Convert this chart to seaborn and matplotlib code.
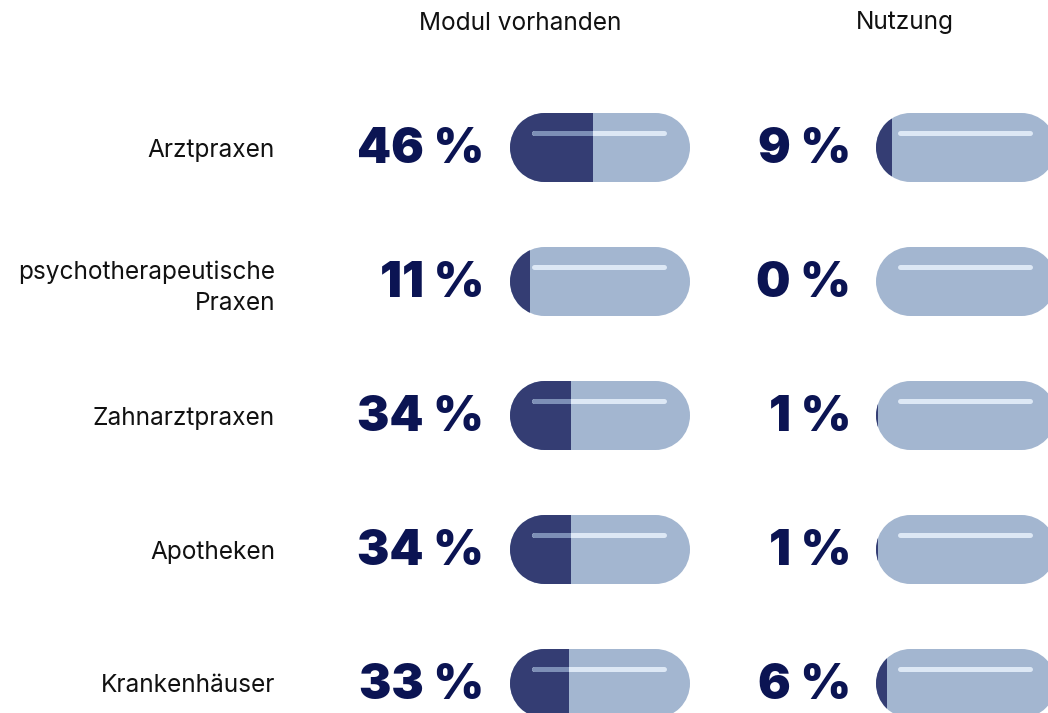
import matplotlib
matplotlib.use("Agg")
import matplotlib.pyplot as plt
import seaborn as sns
import pandas as pd
import numpy as np
from matplotlib.path import Path
from matplotlib.patches import PathPatch

categories = ["Arztpraxen", "psychotherapeutische\nPraxen", "Zahnarztpraxen", "Apotheken", "Krankenhäuser"]
modul_vorhanden = [46, 11, 34, 34, 33]
nutzung = [9, 0, 1, 1, 6]
headers = ["Modul vorhanden", "Nutzung"]

DARK = "#343d73"
LIGHT = "#a3b6d0"
HL_LIGHT = "#dde8f5"
HL_DARK = "#7d8fb6"
TXT = "#0b1453"

sns.set_theme(style="white")
plt.rcParams["font.family"] = ["Inter", "DejaVu Sans"]

W, H = 1048, 713
fig = plt.figure(figsize=(W / 100, H / 100), dpi=100)

row0, step = 147.5, 134.0
pill_w_px, pill_h_px = 180.0, 69.0
bar_h = pill_h_px / step
ux = pill_w_px / 100.0  # px per percent
ylim = ((H - row0) / step, -row0 / step)
rx = pill_h_px / 2 / ux
ry = bar_h / 2


def pill_path(cy, x0=0.0, x1=100.0):
    left = Path.arc(90, 270)
    right = Path.arc(-90, 90)
    lv = left.vertices * [rx, ry] + [x0 + rx, cy]
    rv = right.vertices * [rx, ry] + [x1 - rx, cy]
    verts = np.vstack([lv, rv[:1], rv, lv[:1]])
    codes = np.concatenate([left.codes, [Path.LINETO], [Path.LINETO], right.codes[1:],
                            [Path.CLOSEPOLY]])
    return Path(verts, codes)


col_left = [510, 876]
num_right = [484, 851]
head_x = [520, 905]
series = [modul_vorhanden, nutzung]

for k in range(2):
    ax = fig.add_axes([col_left[k] / W, 0, pill_w_px / W, 1])
    df = pd.DataFrame({"cat": categories, "val": series[k]})
    pills = []
    for i in range(len(categories)):
        p = PathPatch(pill_path(i), facecolor=LIGHT, edgecolor="none", zorder=1)
        ax.add_patch(p)
        pills.append(p)
    sns.barplot(data=df, x="val", y="cat", orient="h", color=DARK, saturation=1,
                width=bar_h, ax=ax, zorder=2)
    bars = [b for b in ax.patches if b not in pills]
    for i, b in enumerate(bars):
        b.set_clip_path(pills[i])
        b.set_edgecolor("none")
    hx0, hx1 = (534 - 510) / ux, (664 - 510) / ux
    hy = -14.5 / step
    for i, v in enumerate(series[k]):
        ax.plot([hx0, hx1], [i + hy, i + hy], color=HL_LIGHT, lw=3.6,
                solid_capstyle="round", zorder=3)
        if v > hx0 - 2:
            ln, = ax.plot([hx0, min(v + 2, hx1)], [i + hy, i + hy], color=HL_DARK, lw=3.6,
                          solid_capstyle="round", zorder=4)
            ln.set_clip_path(bars[i].get_path(), bars[i].get_transform())
        ax.text((num_right[k] - col_left[k]) / ux, i + 0.015, f"{v} %",
                ha="right", va="center", fontsize=35, fontweight="black",
                family=["Inter", "DejaVu Sans"], color=TXT)
    ax.set_xlim(0, 100)
    ax.set_ylim(*ylim)
    ax.set_xlabel("")
    ax.set_ylabel("")
    ax.set_xticks([])
    ax.set_facecolor("none")
    for s in ax.spines.values():
        s.set_visible(False)
    if k == 0:
        ax.tick_params(axis="y", length=0, pad=(510 - 275) * 0.72, labelsize=17.6,
                       labelcolor="#111111")
        for lbl in ax.get_yticklabels():
            lbl.set_linespacing(1.45)
    else:
        ax.set_yticks([])
    fig.text(head_x[k] / W, 1 - 23 / H, headers[k], ha="center", va="center",
             fontsize=17.6, color="#111111")

fig.savefig("out.png", dpi=100)
